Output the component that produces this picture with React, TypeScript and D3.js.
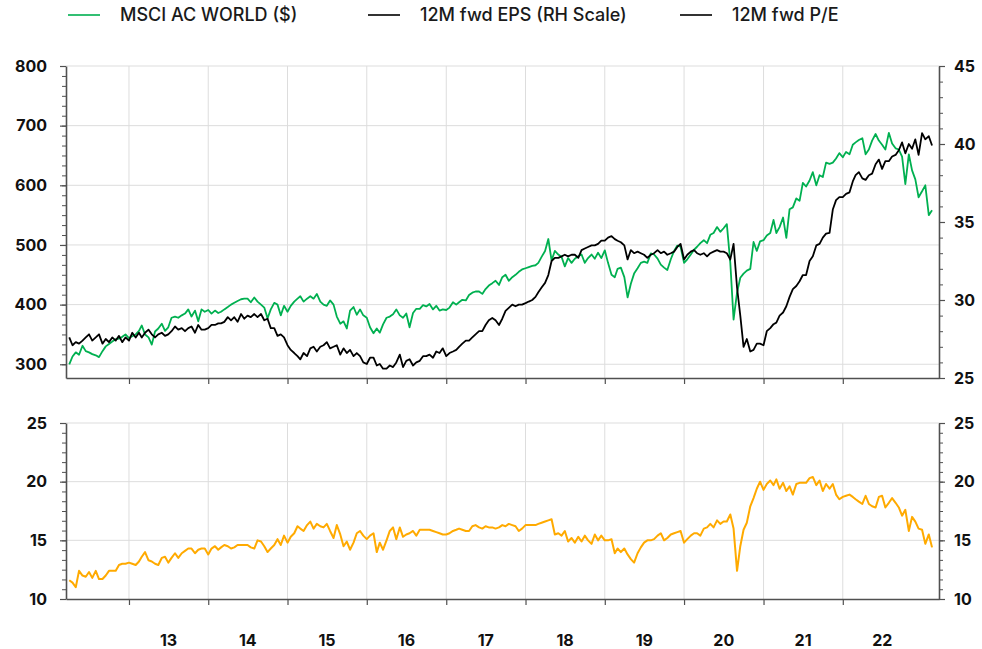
import * as d3 from "d3";
import { useEffect, useRef } from "react";

const WIDTH = 982;
const HEIGHT = 649;
const FONT = "Inter, 'Noto Sans', sans-serif";
const GREEN = "#00b050";
const BLACK = "#000000";
const ORANGE = "#ffaa00";
const AXIS = "#505050";
const GRID = "#dddddd";

// half-monthly observations (1st and 16th), Apr 2012 .. Feb 2023
const dates: Date[] = d3.timeMonth
  .range(new Date(2012, 3, 1), new Date(2023, 2, 1))
  .flatMap((m) => [m, new Date(m.getFullYear(), m.getMonth(), 16)]);

const years = [2013, 2014, 2015, 2016, 2017, 2018, 2019, 2020, 2021, 2022];
const yearLabels = ["13", "14", "15", "16", "17", "18", "19", "20", "21", "22"];

const msciTicks = [300, 400, 500, 600, 700, 800];
const epsTicks = [25, 30, 35, 40, 45];
const peTicks = [10, 15, 20, 25];

const legendLabels = ["MSCI AC WORLD ($)", "12M fwd EPS (RH Scale)", "12M fwd P/E"];
const legendColors = [GREEN, BLACK, BLACK];

// MSCI AC World index, USD (left scale)
const msciWorld = [
  // 2012 (from Apr)
  300, 313, 320, 316, 331, 322, 320, 317, 315, 312, 322, 330, 334, 338, 342, 343, 346, 350,
  // 2013
  344, 347, 350, 356, 365, 350, 345, 333, 355, 360, 368, 356, 362, 378, 380, 378, 382, 385, 392, 380, 390, 372, 392, 388,
  // 2014
  391, 385, 390, 386, 388, 392, 396, 400, 403, 406, 409, 410, 410, 404, 412, 405, 400, 395, 377, 392, 403, 400, 382, 398,
  // 2015
  388, 398, 405, 410, 414, 405, 410, 414, 410, 418, 405, 400, 398, 407, 400, 380, 368, 372, 360, 390, 396, 383, 392, 382,
  // 2016
  378, 362, 352, 360, 353, 367, 378, 380, 384, 392, 382, 378, 385, 362, 386, 393, 393, 399, 397, 401, 392, 398, 390, 392,
  // 2017
  391, 395, 404, 400, 404, 408, 407, 416, 420, 422, 422, 418, 426, 432, 436, 440, 433, 446, 450, 440, 446, 450, 455, 459,
  // 2018
  461, 463, 465, 466, 470, 480, 490, 510, 474, 490, 484, 480, 464, 478, 470, 477, 481, 484, 470, 478, 484, 477, 487, 478,
  // 2019
  491, 470, 450, 446, 460, 462, 446, 412, 435, 452, 461, 470, 472, 470, 486, 484, 477, 467, 462, 458, 476, 490, 499, 497,
  // 2020
  470, 476, 484, 492, 497, 503, 508, 503, 517, 520, 530, 522, 528, 535, 470, 375, 420, 445, 452, 457, 460, 505, 490, 506,
  // 2021
  508, 516, 520, 542, 520, 530, 546, 512, 560, 563, 578, 574, 604, 598, 608, 622, 600, 617, 614, 638, 636, 638, 645, 654,
  // 2022
  647, 656, 652, 668, 672, 676, 679, 652, 660, 675, 686, 675, 668, 660, 688, 670, 662, 660, 648, 602, 652, 625, 610, 580,
  // 2023
  590, 600, 550, 558,
];

// 12M forward EPS (right scale)
const fwdEps = [
  // 2012 (from Apr)
  27.6, 27.1, 27.3, 27.2, 27.4, 27.6, 27.8, 27.4, 27.6, 27.8, 27.2, 27.5, 27.3, 27.6, 27.4, 27.7, 27.3, 27.6,
  // 2013
  27.4, 27.9, 27.6, 27.9, 27.6, 27.9, 28.1, 27.8, 27.6, 27.8, 27.9, 27.7, 27.8, 28.0, 28.3, 28.1, 28.2, 28.0, 28.2, 28.3, 27.9, 28.4, 28.1, 28.1,
  // 2014
  28.2, 28.4, 28.4, 28.5, 28.5, 28.6, 28.9, 28.7, 28.9, 28.6, 29.1, 28.8, 29.0, 28.9, 29.1, 28.9, 29.1, 28.7, 28.8, 28.2, 28.2, 27.7, 27.8, 27.6,
  // 2015
  27.1, 26.8, 26.6, 26.4, 26.2, 26.6, 26.4, 26.9, 27.0, 26.7, 27.0, 27.1, 27.3, 26.9, 27.0, 27.1, 26.5, 26.9, 26.6, 26.8, 26.4, 26.6, 26.4, 26.0,
  // 2016
  25.9, 26.3, 26.3, 25.8, 25.9, 25.6, 25.6, 25.8, 25.7, 26.0, 26.5, 25.7, 26.1, 26.2, 25.8, 26.0, 26.1, 26.4, 26.4, 26.5, 26.3, 26.7, 26.6, 26.9,
  // 2017
  26.4, 26.6, 26.7, 26.8, 27.0, 27.2, 27.4, 27.4, 27.6, 27.8, 28.0, 28.0, 28.4, 28.7, 28.85, 28.7, 28.4, 28.8, 29.3, 29.5, 29.7, 29.6, 29.7, 29.7,
  // 2018
  29.8, 29.9, 30.0, 30.2, 30.5, 30.8, 31.1, 31.6, 32.5, 32.7, 32.7, 32.8, 32.9, 32.8, 32.9, 32.9, 32.7, 33.2, 33.3, 33.4, 33.5, 33.5, 33.6, 33.8,
  // 2019
  33.8, 34.0, 34.1, 33.9, 33.8, 33.7, 33.5, 32.6, 33.2, 33.0, 33.1, 33.0, 32.9, 32.7, 32.9, 33.0, 33.2, 33.0, 33.1, 32.9, 33.0, 33.1, 33.4, 33.6,
  // 2020
  32.6, 32.9, 33.1, 33.2, 33.0, 32.9, 33.0, 32.8, 33.0, 33.1, 33.2, 33.1, 33.1, 33.0, 32.6, 33.6, 30.8, 29.0, 27.0, 27.5, 26.7, 26.8, 27.2, 27.2,
  // 2021
  27.1, 28.0, 28.2, 28.45, 28.55, 29.0, 29.2, 29.6, 30.2, 30.7, 30.9, 31.2, 31.6, 31.6, 32.5, 32.8, 33.5, 33.6, 34.0, 34.25, 34.3, 35.8, 36.4, 36.6,
  // 2022
  36.6, 36.8, 36.9, 37.6, 38.0, 38.2, 37.8, 37.7, 38.0, 38.1, 38.7, 39.0, 38.4, 38.9, 38.9, 39.2, 39.3, 39.6, 40.1, 39.4, 40.0, 39.7, 40.3, 39.3,
  // 2023
  40.7, 40.3, 40.5, 39.9,
];

// 12M forward P/E (lower panel)
const fwdPe = [
  // 2012 (from Apr)
  11.6, 11.4, 11.0, 12.4, 12.0, 11.9, 12.3, 11.8, 12.4, 11.7, 11.7, 12.0, 12.4, 12.4, 12.4, 12.9, 13.0, 13.0,
  // 2013
  13.1, 13.0, 12.9, 13.2, 13.6, 14.0, 13.3, 13.2, 13.0, 12.9, 13.5, 13.6, 13.1, 13.5, 13.9, 13.5, 13.9, 14.1, 14.3, 14.3, 13.9, 14.2, 14.3, 14.3,
  // 2014
  13.8, 14.3, 14.5, 14.2, 14.4, 14.6, 14.5, 14.3, 14.4, 14.6, 14.6, 14.6, 14.6, 14.4, 14.3, 15.0, 14.9, 14.5, 14.0, 14.3, 14.6, 15.1, 14.6, 15.4,
  // 2015
  14.8, 15.3, 15.6, 16.2, 16.0, 15.8, 16.3, 16.6, 16.0, 16.4, 16.2, 16.1, 16.4, 15.8, 15.2, 16.3, 15.5, 14.5, 14.9, 14.2, 14.8, 15.6, 15.8, 15.4,
  // 2016
  15.1, 15.4, 15.6, 14.0, 14.8, 14.2, 15.0, 15.8, 16.1, 15.1, 16.1, 15.3, 15.5, 15.6, 15.8, 15.4, 15.9, 15.9, 15.9, 15.9, 15.8, 15.7, 15.6, 15.5,
  // 2017
  15.5, 15.6, 15.8, 15.9, 16.0, 15.9, 15.8, 15.8, 16.2, 16.3, 16.1, 16.0, 16.2, 16.1, 16.1, 16.0, 16.1, 16.3, 16.2, 16.4, 16.3, 16.2, 15.8, 16.0,
  // 2018
  16.3, 16.3, 16.3, 16.3, 16.4, 16.5, 16.6, 16.7, 16.8, 15.5, 15.6, 15.4, 15.8, 14.9, 15.2, 14.8, 15.3, 14.9, 15.4, 15.0, 14.7, 15.5, 15.0, 15.4,
  // 2019
  15.0, 15.0, 15.1, 13.9, 14.3, 14.0, 14.3, 13.8, 13.4, 13.1, 13.9, 14.4, 14.8, 15.0, 15.0, 15.1, 15.4, 15.6, 15.0, 15.2, 15.5, 15.6, 15.7, 15.8,
  // 2020
  14.8, 15.1, 15.4, 15.6, 15.6, 15.4, 16.0, 16.1, 16.4, 16.1, 16.7, 16.4, 16.6, 16.6, 17.2, 16.0, 12.4, 14.5, 15.9, 16.5, 17.9, 18.6, 19.4, 20.0,
  // 2021
  19.3, 19.8, 20.1, 19.7, 20.2, 19.4, 19.9, 19.2, 19.6, 18.9, 19.8, 19.9, 19.9, 19.9, 20.3, 20.4, 19.7, 20.1, 19.2, 19.8, 19.4, 19.8, 18.9, 18.5,
  // 2022
  18.7, 18.8, 18.9, 18.7, 18.5, 18.3, 18.1, 18.8, 18.1, 17.9, 17.8, 18.7, 18.8, 17.8, 18.2, 18.6, 18.2, 17.8, 17.1, 17.6, 15.8, 17.0, 16.6, 16.0,
  // 2023
  15.9, 14.7, 15.5, 14.4,
];

const App = () => {
  const chartRef = useRef<SVGSVGElement | null>(null);

  useEffect(() => {
    const svg = d3.select(chartRef.current);
    svg.selectAll("*").remove();

    const left = 66;
    const right = 939;
    const topPanel = { y0: 66, y1: 378 };
    const botPanel = { y0: 423, y1: 599 };

    const x = d3
      .scaleTime()
      .domain([new Date(2012, 2, 17), new Date(2023, 2, 20)])
      .range([left, right]);

    const yMsci = d3.scaleLinear().domain([277, 800]).range([topPanel.y1, topPanel.y0]);
    const yEps = d3.scaleLinear().domain([25, 45]).range([topPanel.y1, topPanel.y0]);
    const yPe = d3.scaleLinear().domain([10, 25]).range([botPanel.y1, botPanel.y0]);

    const yearStarts = years.map((y) => new Date(y, 0, 1));

    // gridlines
    const grid = svg.append("g").attr("stroke", GRID).attr("stroke-width", 1);
    [topPanel, botPanel].forEach((p) => {
      grid
        .selectAll(null)
        .data(yearStarts)
        .enter()
        .append("line")
        .attr("x1", (d) => x(d))
        .attr("x2", (d) => x(d))
        .attr("y1", p.y0)
        .attr("y2", p.y1);
    });
    grid
      .selectAll(null)
      .data(msciTicks)
      .enter()
      .append("line")
      .attr("x1", left)
      .attr("x2", right)
      .attr("y1", (d) => yMsci(d))
      .attr("y2", (d) => yMsci(d));
    grid
      .selectAll(null)
      .data(peTicks.slice(1))
      .enter()
      .append("line")
      .attr("x1", left)
      .attr("x2", right)
      .attr("y1", (d) => yPe(d))
      .attr("y2", (d) => yPe(d));

    // axes
    const styleAxis = (g: any) => {
      g.attr("font-family", FONT).attr("font-size", 16).attr("font-weight", 700);
      g.select(".domain").attr("stroke", AXIS).attr("stroke-width", 1.6);
      g.selectAll(".tick line").attr("stroke", AXIS).attr("stroke-width", 1.2);
      g.selectAll(".tick text").attr("fill", "#111");
    };
    const minorAxis = (g: any) => {
      g.select(".domain").remove();
      g.selectAll(".tick line").attr("stroke", AXIS).attr("stroke-width", 1);
    };

    const addY = (axisFn: any, scale: any, major: number[], minorStep: number, xPos: number, pad: number) => {
      const [lo, hi] = [major[0], major[major.length - 1]];
      const minor = d3.range(lo, hi + 1e-6, minorStep);
      svg
        .append("g")
        .attr("transform", `translate(${xPos},0)`)
        .call(axisFn(scale).tickValues(minor).tickSize(4).tickSizeOuter(0).tickFormat(() => ""))
        .call(minorAxis);
      svg
        .append("g")
        .attr("transform", `translate(${xPos},0)`)
        .call(axisFn(scale).tickValues(major).tickSize(6).tickSizeOuter(0).tickPadding(pad).tickFormat(d3.format("d")))
        .call(styleAxis);
    };

    addY(d3.axisLeft, yMsci, msciTicks, 100 / 6, left, 13);
    addY(d3.axisRight, yEps, epsTicks, 1, right, 9);
    addY(d3.axisLeft, yPe, peTicks, 5 / 6, left, 13);
    addY(d3.axisRight, yPe, peTicks, 5 / 6, right, 9);

    [topPanel, botPanel].forEach((p) => {
      svg
        .append("g")
        .attr("transform", `translate(0,${p.y1})`)
        .call(d3.axisBottom(x).tickValues(yearStarts).tickSize(6).tickSizeOuter(0).tickFormat(() => ""))
        .call(styleAxis);
    });

    // year labels, centred in each year
    svg
      .append("g")
      .selectAll("text")
      .data(years)
      .enter()
      .append("text")
      .attr("x", (d) => x(new Date(d, 6, 2)))
      .attr("y", 646)
      .attr("text-anchor", "middle")
      .attr("font-family", FONT)
      .attr("font-size", 16)
      .attr("font-weight", 700)
      .attr("fill", "#111")
      .text((_, i) => yearLabels[i]);

    // series
    const lineFor = (scale: any) =>
      d3
        .line<number>()
        .x((_, i) => x(dates[i]))
        .y((d) => scale(d));

    svg
      .append("path")
      .datum(msciWorld)
      .attr("d", lineFor(yMsci))
      .attr("fill", "none")
      .attr("stroke", GREEN)
      .attr("stroke-width", 1.8)
      .attr("stroke-linejoin", "round");
    svg
      .append("path")
      .datum(fwdEps)
      .attr("d", lineFor(yEps))
      .attr("fill", "none")
      .attr("stroke", BLACK)
      .attr("stroke-width", 1.8)
      .attr("stroke-linejoin", "round");
    svg
      .append("path")
      .datum(fwdPe)
      .attr("d", lineFor(yPe))
      .attr("fill", "none")
      .attr("stroke", ORANGE)
      .attr("stroke-width", 2)
      .attr("stroke-linejoin", "round");

    // legend
    const legendX = [68, 368, 680];
    const lg = svg.append("g");
    legendLabels.forEach((label, i) => {
      lg.append("line")
        .attr("x1", legendX[i])
        .attr("x2", legendX[i] + 32)
        .attr("y1", 15)
        .attr("y2", 15)
        .attr("stroke", legendColors[i])
        .attr("stroke-width", 1.6);
      lg.append("text")
        .attr("x", legendX[i] + 52)
        .attr("y", 15)
        .attr("dy", "0.35em")
        .attr("font-family", FONT)
        .attr("font-size", 18)
        .attr("font-weight", 500)
        .attr("fill", "#1a1a1a")
        .text(label);
    });
  }, []);

  return (
    <div style={{ position: "absolute", left: 0, top: 0 }}>
      <svg ref={chartRef} width={WIDTH} height={HEIGHT} style={{ display: "block", background: "#fff" }} />
    </div>
  );
};

export default App;
